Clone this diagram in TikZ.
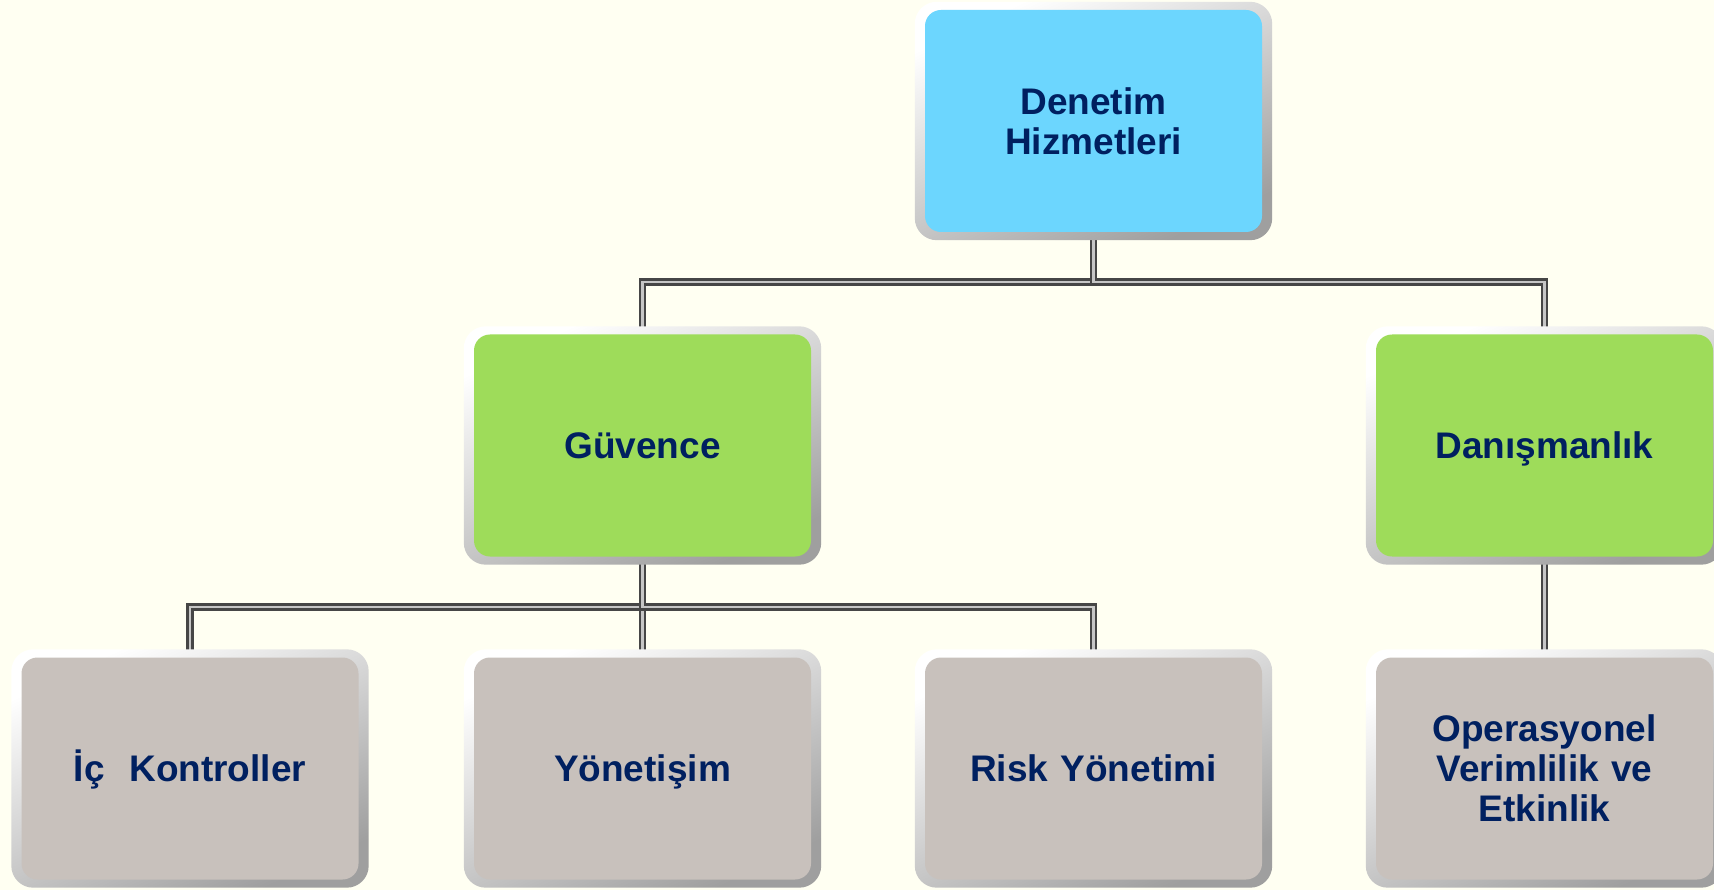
\documentclass[tikz,border=0pt]{standalone}
\usepackage{fontspec}
\setmainfont{Liberation Sans}
\usetikzlibrary{calc}
\pgfdeclarelayer{bottom}
\pgfdeclarelayer{links}
\pgfdeclarelayer{frames}
\pgfsetlayers{bottom,links,frames,main}
\definecolor{bgc}{RGB}{255,255,242}
\definecolor{txt}{RGB}{0,32,96}
\definecolor{blu}{RGB}{108,214,254}
\definecolor{grn}{RGB}{158,220,90}
\definecolor{gry}{RGB}{200,193,188}
\tikzset{
  box/.style={rounded corners=16pt, minimum width=337pt, minimum height=222pt,
    inner sep=0pt, text=txt, font=\bfseries\fontsize{37}{40}\selectfont,
    align=center, text width=335pt,
    execute at begin node=\rule{0pt}{0.95em},
    execute at end node=\rule[-0.23em]{0pt}{0.23em}},
  conn/.style={draw=gray!55!black, line width=2.6pt, double=gray!45, double distance=2.4pt},
  frame/.style={rounded corners=22pt, shading=axis, top color=white, bottom color=gray!75, shading angle=25},
}
\begin{document}
\begin{tikzpicture}[x=1pt,y=-1pt]
\useasboundingbox (0,0) rectangle (1714,890);
\begin{pgfonlayer}{bottom}
\fill[bgc] (0,0) rectangle (1714,890);
\end{pgfonlayer}
\node[box, fill=blu] (top) at (1093.5,121) {Denetim\\Hizmetleri};
\node[box, fill=grn] (guv) at (642.5,445.5) {Güvence};
\node[box, fill=grn] (dan) at (1544.5,445.5) {Danışmanlık};
\node[box, fill=gry] (ic) at (190,768.5) {İç\ \ Kontroller};
\node[box, fill=gry] (yon) at (642.5,768.5) {Yönetişim};
\node[box, fill=gry] (risk) at (1093.5,768.5) {Risk Yönetimi};
\node[box, fill=gry] (ops) at (1544.5,768.5) {Operasyonel\\Verimlilik ve\\Etkinlik};
\begin{pgfonlayer}{frames}
\foreach \n in {top,guv,dan,ic,yon,risk,ops}{
  \path[frame] ($(\n.north west)+(-10,-8)$) rectangle ($(\n.south east)+(10,8)$);
}
\end{pgfonlayer}
\begin{pgfonlayer}{links}
\draw[conn] (top.south) -- ++(0,50) -| (guv.north);
\draw[conn] (top.south) -- ++(0,50) -| (dan.north);
\draw[conn] (guv.south) -- ++(0,50) -| (ic.north);
\draw[conn] (guv.south) -- (yon.north);
\draw[conn] (guv.south) -- ++(0,50) -| (risk.north);
\draw[conn] (dan.south) -- (ops.north);
\end{pgfonlayer}
\end{tikzpicture}
\end{document}
